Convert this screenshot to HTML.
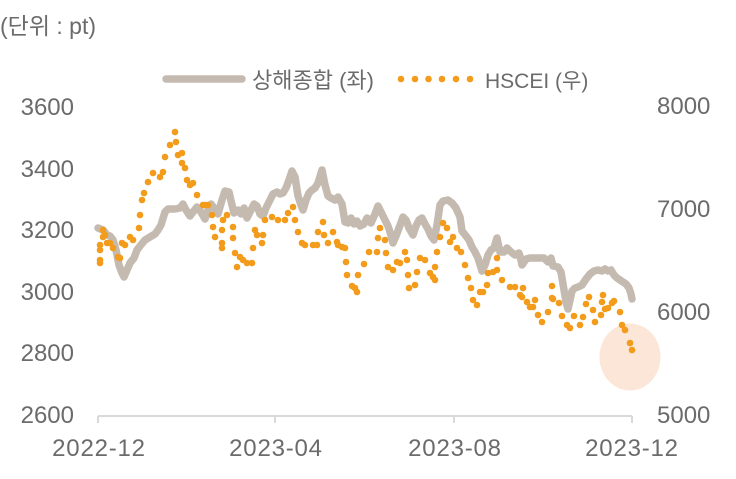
<!DOCTYPE html>
<html><head><meta charset="utf-8"><style>
html,body{margin:0;padding:0;background:#fff;}
svg{display:block;}
text{font-family:"Liberation Sans","Noto Sans CJK KR",sans-serif;fill:#6b6b6b;}
</style></head><body>
<svg width="736" height="479" viewBox="0 0 736 479" xmlns="http://www.w3.org/2000/svg">
<rect width="736" height="479" fill="#fff"/>
<text x="0" y="34" font-size="23">(단위 : pt)</text>
<!-- legend -->
<line x1="166" y1="79" x2="242" y2="79" stroke="#c4bab0" stroke-width="7.5" stroke-linecap="round"/>
<text x="252" y="88" font-size="22">상해종합 (좌)</text>
<g fill="#f39b1a">
<circle cx="401" cy="79" r="3.3"/><circle cx="415" cy="79" r="3.3"/><circle cx="428.5" cy="79" r="3.3"/><circle cx="442" cy="79" r="3.3"/><circle cx="456" cy="79" r="3.3"/><circle cx="470" cy="79" r="3.3"/>
</g>
<text x="485" y="88" font-size="21">HSCEI (우)</text>
<!-- y labels left -->
<g font-size="24" text-anchor="end">
<text x="74" y="115">3600</text>
<text x="74" y="177">3400</text>
<text x="74" y="238">3200</text>
<text x="74" y="300">3000</text>
<text x="74" y="361">2800</text>
<text x="74" y="423">2600</text>
</g>
<g font-size="24">
<text x="657" y="114">8000</text>
<text x="657" y="217">7000</text>
<text x="657" y="320">6000</text>
<text x="657" y="423">5000</text>
</g>
<!-- x axis -->
<g stroke="#d9d9d9" stroke-width="2">
<line x1="98" y1="416" x2="632" y2="416"/>
<line x1="98" y1="416" x2="98" y2="423"/>
<line x1="275" y1="416" x2="275" y2="423"/>
<line x1="454" y1="416" x2="454" y2="423"/>
<line x1="632" y1="416" x2="632" y2="423"/>
</g>
<g font-size="24" text-anchor="middle" letter-spacing="0.8">
<text x="99" y="456">2022-12</text>
<text x="276" y="456">2023-04</text>
<text x="455" y="456">2023-08</text>
<text x="632" y="456">2023-12</text>
</g>
<!-- highlight -->
<ellipse cx="630" cy="357" rx="30.5" ry="33.5" fill="#fce6d7"/>
<!-- gray line -->
<polyline fill="none" stroke="#c4bab0" stroke-width="7.5" stroke-linejoin="round" stroke-linecap="round" points="98,228 103,230 107,235 110,236 113,240 116,250 119,265 122,273 124,277 127,270 130,263 134,258 137,250 140,246 145,240 150,237 155,234 158,230 161,225 165,212 168,209 175,209 180,208 183,204 186,210 190,216 193,212 197,207 201,212 205,219 208,210 211,204 214,208 218,214 222,200 225,191 229,192 232,205 234,213 238,210 241,214 244,208 247,218 250,212 254,204 257,206 260,214 263,216 266,208 270,200 273,194 277,192 280,194 283,193 286,188 289,180 292,171 295,177 298,196 301,205 303,210 306,200 309,193 312,190 315,188 318,183 322,170 325,185 328,196 331,198 335,200 338,197 342,204 345,222 348,223 351,218 354,224 357,221 360,226 364,224 367,218 371,223 375,214 378,206 381,212 385,220 388,226 390,232 393,243 396,236 399,228 403,217 406,220 409,228 413,235 416,226 419,220 422,218 425,224 428,229 431,236 434,240 437,225 440,205 443,201 448,200 452,203 456,208 460,217 462,231 466,236 469,240 472,247 475,252 478,258 482,271 485,265 488,255 491,250 494,248 497,238 500,252 504,252 507,248 511,252 515,255 519,253 521,260 522,265 526,259 530,258 535,258 540,258 544,258 548,262 551,258 553,266 558,267 561,272 564,290 566,302 568,309 570,300 572,291 575,288 578,287 582,285 586,279 590,274 594,271 598,270 602,271 605,269 608,271 611,270 614,275 617,278 620,280 623,282 626,284 629,288 631,294 632,299"/>
<!-- orange dots -->
<g fill="#f39b1a">
<circle cx="100" cy="245" r="3.3"/><circle cx="100" cy="250" r="3.3"/><circle cx="100" cy="260" r="3.3"/><circle cx="100" cy="263" r="3.3"/><circle cx="103" cy="230" r="3.3"/><circle cx="105" cy="235" r="3.3"/><circle cx="103" cy="237" r="3.3"/><circle cx="107" cy="243" r="3.3"/><circle cx="110" cy="243" r="3.3"/><circle cx="113" cy="248" r="3.3"/><circle cx="118" cy="257" r="3.3"/><circle cx="120" cy="258" r="3.3"/><circle cx="122" cy="243" r="3.3"/><circle cx="125" cy="245" r="3.3"/><circle cx="130" cy="237" r="3.3"/><circle cx="133" cy="240" r="3.3"/><circle cx="139" cy="228" r="3.3"/><circle cx="140" cy="215" r="3.3"/><circle cx="142" cy="200" r="3.3"/><circle cx="144" cy="193" r="3.3"/><circle cx="148" cy="182" r="3.3"/><circle cx="153" cy="173" r="3.3"/><circle cx="160" cy="177" r="3.3"/><circle cx="163" cy="172" r="3.3"/><circle cx="165" cy="157" r="3.3"/><circle cx="170" cy="145" r="3.3"/><circle cx="175" cy="132" r="3.3"/><circle cx="176" cy="142" r="3.3"/><circle cx="178" cy="155" r="3.3"/><circle cx="182" cy="153" r="3.3"/><circle cx="182" cy="163" r="3.3"/><circle cx="185" cy="168" r="3.3"/><circle cx="187" cy="180" r="3.3"/><circle cx="190" cy="185" r="3.3"/><circle cx="193" cy="183" r="3.3"/><circle cx="197" cy="195" r="3.3"/><circle cx="203" cy="205" r="3.3"/><circle cx="205" cy="205" r="3.3"/><circle cx="208" cy="205" r="3.3"/><circle cx="212" cy="215" r="3.3"/><circle cx="213" cy="227" r="3.3"/><circle cx="215" cy="237" r="3.3"/><circle cx="222" cy="230" r="3.3"/><circle cx="222" cy="243" r="3.3"/><circle cx="222" cy="248" r="3.3"/><circle cx="223" cy="220" r="3.3"/><circle cx="227" cy="215" r="3.3"/><circle cx="233" cy="227" r="3.3"/><circle cx="233" cy="238" r="3.3"/><circle cx="235" cy="253" r="3.3"/><circle cx="237" cy="267" r="3.3"/><circle cx="240" cy="257" r="3.3"/><circle cx="243" cy="260" r="3.3"/><circle cx="247" cy="263" r="3.3"/><circle cx="252" cy="263" r="3.3"/><circle cx="253" cy="248" r="3.3"/><circle cx="255" cy="230" r="3.3"/><circle cx="257" cy="235" r="3.3"/><circle cx="262" cy="243" r="3.3"/><circle cx="263" cy="235" r="3.3"/><circle cx="265" cy="220" r="3.3"/><circle cx="272" cy="217" r="3.3"/>
<circle cx="278" cy="220" r="3.3"/><circle cx="285" cy="220" r="3.3"/><circle cx="288" cy="213" r="3.3"/><circle cx="293" cy="207" r="3.3"/><circle cx="295" cy="220" r="3.3"/><circle cx="298" cy="232" r="3.3"/><circle cx="302" cy="243" r="3.3"/><circle cx="305" cy="245" r="3.3"/><circle cx="313" cy="245" r="3.3"/><circle cx="317" cy="245" r="3.3"/><circle cx="318" cy="232" r="3.3"/><circle cx="323" cy="222" r="3.3"/><circle cx="324" cy="235" r="3.3"/><circle cx="328" cy="243" r="3.3"/><circle cx="333" cy="232" r="3.3"/><circle cx="337" cy="242" r="3.3"/><circle cx="338" cy="245" r="3.3"/><circle cx="342" cy="247" r="3.3"/><circle cx="345" cy="248" r="3.3"/><circle cx="346" cy="262" r="3.3"/><circle cx="347" cy="275" r="3.3"/><circle cx="352" cy="286" r="3.3"/><circle cx="355" cy="288" r="3.3"/><circle cx="357" cy="292" r="3.3"/><circle cx="358" cy="275" r="3.3"/><circle cx="364" cy="264" r="3.3"/><circle cx="369" cy="252" r="3.3"/><circle cx="377" cy="252" r="3.3"/><circle cx="378" cy="238" r="3.3"/><circle cx="380" cy="228" r="3.3"/><circle cx="385" cy="240" r="3.3"/><circle cx="386" cy="253" r="3.3"/><circle cx="388" cy="267" r="3.3"/><circle cx="393" cy="270" r="3.3"/><circle cx="397" cy="262" r="3.3"/><circle cx="400" cy="263" r="3.3"/><circle cx="405" cy="252" r="3.3"/><circle cx="407" cy="260" r="3.3"/><circle cx="408" cy="275" r="3.3"/><circle cx="409" cy="288" r="3.3"/><circle cx="415" cy="285" r="3.3"/><circle cx="417" cy="272" r="3.3"/><circle cx="420" cy="258" r="3.3"/><circle cx="425" cy="260" r="3.3"/><circle cx="430" cy="273" r="3.3"/><circle cx="433" cy="277" r="3.3"/><circle cx="435" cy="280" r="3.3"/><circle cx="435" cy="267" r="3.3"/><circle cx="437" cy="252" r="3.3"/><circle cx="440" cy="237" r="3.3"/><circle cx="443" cy="223" r="3.3"/><circle cx="447" cy="228" r="3.3"/><circle cx="450" cy="242" r="3.3"/><circle cx="453" cy="237" r="3.3"/><circle cx="457" cy="248" r="3.3"/>
<circle cx="461" cy="252" r="3.3"/><circle cx="465" cy="265" r="3.3"/><circle cx="468" cy="278" r="3.3"/><circle cx="471" cy="288" r="3.3"/><circle cx="473" cy="300" r="3.3"/><circle cx="477" cy="305" r="3.3"/><circle cx="480" cy="292" r="3.3"/><circle cx="483" cy="292" r="3.3"/><circle cx="487" cy="285" r="3.3"/><circle cx="488" cy="273" r="3.3"/><circle cx="493" cy="272" r="3.3"/><circle cx="497" cy="270" r="3.3"/><circle cx="497" cy="258" r="3.3"/><circle cx="502" cy="280" r="3.3"/><circle cx="510" cy="287" r="3.3"/><circle cx="515" cy="287" r="3.3"/><circle cx="520" cy="295" r="3.3"/><circle cx="522" cy="297" r="3.3"/><circle cx="523" cy="288" r="3.3"/><circle cx="527" cy="302" r="3.3"/><circle cx="530" cy="307" r="3.3"/><circle cx="533" cy="307" r="3.3"/><circle cx="535" cy="300" r="3.3"/><circle cx="538" cy="315" r="3.3"/><circle cx="542" cy="322" r="3.3"/><circle cx="548" cy="312" r="3.3"/><circle cx="552" cy="298" r="3.3"/><circle cx="552" cy="286" r="3.3"/><circle cx="553" cy="299" r="3.3"/><circle cx="559" cy="303" r="3.3"/><circle cx="562" cy="316" r="3.3"/><circle cx="567" cy="325" r="3.3"/><circle cx="570" cy="328" r="3.3"/><circle cx="574" cy="316" r="3.3"/><circle cx="580" cy="325" r="3.3"/><circle cx="583" cy="317" r="3.3"/><circle cx="586" cy="304" r="3.3"/><circle cx="589" cy="297" r="3.3"/><circle cx="593" cy="310" r="3.3"/><circle cx="595" cy="322" r="3.3"/><circle cx="601" cy="315" r="3.3"/><circle cx="602" cy="302" r="3.3"/><circle cx="603" cy="295" r="3.3"/><circle cx="605" cy="309" r="3.3"/><circle cx="608" cy="308" r="3.3"/><circle cx="612" cy="303" r="3.3"/><circle cx="614" cy="301" r="3.3"/><circle cx="620" cy="312" r="3.3"/><circle cx="622" cy="325" r="3.3"/><circle cx="625" cy="330" r="3.3"/><circle cx="630" cy="343" r="3.3"/><circle cx="632" cy="350" r="3.3"/>
</g>
</svg>
</body></html>
